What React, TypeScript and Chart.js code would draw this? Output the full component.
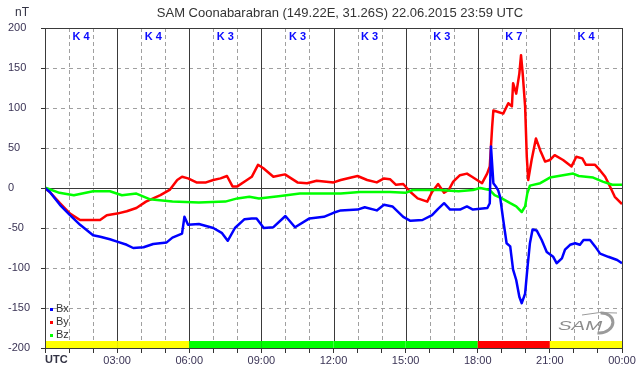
import React, { useEffect, useRef } from 'react';
import { Chart, registerables } from 'chart.js';

Chart.register(...registerables);

const TITLE = 'SAM Coonabarabran (149.22E, 31.26S) 22.06.2015 23:59 UTC';
const UNIT = 'nT';

const bxHours = [0, 0.2, 0.62, 1.04, 1.46, 2.0, 2.3, 2.7, 3.0, 3.4, 3.67, 4.1, 4.5, 5.06, 5.3, 5.7, 5.8, 5.95, 6.4, 7.0, 7.35, 7.6, 7.9, 8.3, 8.6, 8.8, 9.1, 9.5, 10.0, 10.4, 11.0, 11.6, 12.0, 12.3, 13.0, 13.3, 13.8, 14.1, 14.45, 14.9, 15.2, 15.7, 16.1, 16.35, 16.6, 16.85, 17.26, 17.55, 17.8, 18.4, 18.5, 18.55, 18.65, 18.75, 18.85, 18.93, 19.06, 19.2, 19.35, 19.47, 19.6, 19.73, 19.83, 19.97, 20.06, 20.17, 20.28, 20.45, 20.66, 20.87, 21.14, 21.28, 21.5, 21.63, 21.84, 22.05, 22.25, 22.4, 22.67, 22.88, 23.09, 23.43, 23.8, 24];
const bxValues = [0, -5, -21, -34, -46, -59, -61, -64, -67, -71, -75, -74, -70, -68, -62, -57, -36, -46, -45, -50, -56, -66, -50, -39, -38, -38, -50, -49, -35, -49, -38, -36, -31, -28, -27, -24, -28, -21, -23, -36, -41, -40, -34, -26, -19, -27, -27, -23, -27, -25, -19, 52, 6, 2, -3, -11, -40, -69, -73, -102, -115, -136, -144, -132, -102, -69, -52, -53, -65, -80, -86, -94, -88, -77, -71, -69, -71, -65, -65, -73, -82, -86, -90, -94];

const byHours = [0, 0.2, 0.62, 1.04, 1.46, 2.29, 2.57, 3.0, 3.4, 3.8, 4.2, 4.8, 5.2, 5.5, 5.7, 5.95, 6.3, 6.7, 7.0, 7.3, 7.57, 7.8, 8.0, 8.4, 8.6, 8.86, 9.07, 9.5, 9.98, 10.5, 10.9, 11.3, 12.0, 12.3, 13.0, 13.4, 13.8, 14.1, 14.35, 14.6, 14.9, 15.2, 15.5, 15.9, 16.1, 16.35, 16.6, 16.8, 16.98, 17.26, 17.55, 17.76, 17.97, 18.18, 18.39, 18.5, 18.6, 18.65, 18.85, 19.06, 19.27, 19.42, 19.47, 19.6, 19.73, 19.8, 19.87, 19.97, 20.04, 20.1, 20.24, 20.42, 20.6, 20.8, 21.0, 21.2, 21.55, 21.9, 22.1, 22.35, 22.5, 22.88, 23.09, 23.3, 23.5, 23.7, 24];
const byValues = [0, -5, -19, -32, -40, -40, -34, -32, -29, -25, -17, -9, -2, 10, 14, 12, 7, 7, 10, 12, 15, 2, 2, 10, 14, 29, 25, 14, 17, 7, 6, 9, 7, 10, 15, 10, 7, 12, 11, 4, 5, -5, -13, -17, -5, 5, -6, -2, 8, 16, 18, 14, 10, 6, 18, 27, 77, 97, 95, 93, 106, 102, 131, 118, 143, 166, 143, 102, 39, 10, 35, 62, 47, 33, 35, 41, 35, 27, 39, 37, 29, 29, 22, 14, 2, -11, -20];

const bzHours = [0, 0.05, 0.6, 1.2, 2.0, 2.7, 3.2, 3.8, 4.35, 5.3, 6.4, 7.5, 8.0, 8.5, 8.9, 9.8, 10.6, 12.3, 13.1, 14.35, 15.0, 15.3, 16.4, 17.2, 17.8, 18.1, 18.5, 18.7, 19.0, 19.35, 19.6, 19.83, 19.97, 20.06, 20.17, 20.6, 21.0, 21.97, 22.2, 22.8, 23.2, 23.6, 24];
const bzValues = [0, 0, -6, -9, -4, -4, -9, -7, -14, -17, -18, -17, -13, -11, -13, -10, -7, -7, -5, -5, -6, -2.5, -2.5, -4, -2.5, 0, -2.5, -9, -13, -19, -23, -30, -23, -7, 3, 6, 13, 18, 15, 13, 8, 4, 4];

const kStartHours = [0, 3, 6, 9, 12, 15, 18, 21];
const kValues = [4, 4, 3, 3, 3, 3, 7, 4];

const xTickHours = [0, 3, 6, 9, 12, 15, 18, 21, 24];
const xTickLabels = ['UTC', '03:00', '06:00', '09:00', '12:00', '15:00', '18:00', '21:00', '00:00'];

const seriesNames = ['Bx', 'By', 'Bz'];
const seriesColors = ['#0000ff', '#ff0000', '#00ff00'];

const FONT = "Arial, 'Liberation Sans', sans-serif";

function kColor(k: number) {
  if (k >= 5) return '#ff0000';
  if (k === 4) return '#ffff00';
  return '#00ff00';
}

const decor = {
  id: 'decor',
  beforeDatasetsDraw(chart: any) {
    const { ctx, chartArea } = chart;
    const xs = chart.scales.x;
    const ys = chart.scales.y;
    const { left, right, top, bottom } = chartArea;
    ctx.save();
    // horizontal dashed grid
    ctx.lineWidth = 1;
    ctx.strokeStyle = '#a0a0a0';
    ctx.setLineDash([4, 4]);
    for (let v = -150; v <= 150; v += 50) {
      if (v === 0) continue;
      const y = Math.round(ys.getPixelForValue(v)) + 0.5;
      ctx.beginPath();
      ctx.moveTo(left, y);
      ctx.lineTo(right, y);
      ctx.stroke();
    }
    // vertical hourly dashed
    ctx.setLineDash([4, 3]);
    for (let h = 1; h < 24; h++) {
      if (h % 3 === 0) continue;
      const x = Math.round(xs.getPixelForValue(h)) + 0.5;
      ctx.beginPath();
      ctx.moveTo(x, top);
      ctx.lineTo(x, bottom);
      ctx.stroke();
    }
    // solid lines
    ctx.setLineDash([]);
    ctx.strokeStyle = '#3a3a3a';
    for (let h = 3; h < 24; h += 3) {
      const x = Math.round(xs.getPixelForValue(h)) + 0.5;
      ctx.beginPath();
      ctx.moveTo(x, top);
      ctx.lineTo(x, bottom);
      ctx.stroke();
    }
    const y0 = Math.round(ys.getPixelForValue(0)) + 0.5;
    ctx.beginPath();
    ctx.moveTo(left, y0);
    ctx.lineTo(right, y0);
    ctx.stroke();
    // K index bar
    for (let i = 0; i < kStartHours.length; i++) {
      const x1 = xs.getPixelForValue(kStartHours[i]);
      const x2 = xs.getPixelForValue(kStartHours[i] + 3);
      ctx.fillStyle = kColor(kValues[i]);
      ctx.fillRect(x1, bottom - 7, x2 - x1, 7);
    }
    // K labels
    ctx.fillStyle = '#0a0aff';
    ctx.font = `bold 11px ${FONT}`;
    ctx.textAlign = 'center';
    ctx.textBaseline = 'middle';
    for (let i = 0; i < kStartHours.length; i++) {
      const xm = xs.getPixelForValue(kStartHours[i] + 1.5);
      ctx.fillText('K ' + kValues[i], xm, top + 9);
    }
    ctx.restore();
  },
  afterDatasetsDraw(chart: any) {
    const { ctx, chartArea } = chart;
    const { left, right, top, bottom } = chartArea;
    ctx.save();
    // frame
    ctx.strokeStyle = '#3a3a3a';
    ctx.lineWidth = 1;
    ctx.setLineDash([]);
    ctx.strokeRect(Math.round(left) + 0.5, Math.round(top) + 0.5, Math.round(right - left), Math.round(bottom - top));
    // title
    ctx.fillStyle = '#333333';
    ctx.font = `13px ${FONT}`;
    ctx.textAlign = 'center';
    ctx.textBaseline = 'middle';
    ctx.fillText(TITLE, 340, 13);
    ctx.font = `12px ${FONT}`;
    ctx.fillStyle = '#333344';
    ctx.textAlign = 'left';
    ctx.fillText(UNIT, 15, 13);
    // UTC label
    ctx.font = `bold 11px ${FONT}`;
    ctx.textBaseline = 'top';
    ctx.fillStyle = '#333344';
    ctx.fillText(xTickLabels[0], left, bottom + 6);
    // legend
    ctx.font = `11px ${FONT}`;
    ctx.textBaseline = 'middle';
    for (let i = 0; i < seriesNames.length; i++) {
      const y = bottom - 39 + i * 13;
      ctx.fillStyle = seriesColors[i];
      ctx.fillRect(left + 5, y - 1, 3, 3);
      ctx.fillStyle = '#333333';
      ctx.fillText(seriesNames[i], left + 11, y);
    }
    // logo
    ctx.save();
    ctx.fillStyle = '#8c8c8c';
    ctx.font = `italic 12px ${FONT}`;
    ctx.textBaseline = 'alphabetic';
    ctx.translate(558, 330);
    ctx.scale(1.7, 1);
    ctx.fillText('SAM', 0, 0);
    ctx.restore();
    ctx.strokeStyle = '#9a9a9a';
    ctx.lineWidth = 3;
    ctx.beginPath();
    ctx.ellipse(600, 323, 13, 10, -0.15, -Math.PI * 0.45, Math.PI * 0.6);
    ctx.stroke();
    ctx.lineWidth = 1;
    ctx.beginPath();
    ctx.moveTo(582, 315);
    ctx.quadraticCurveTo(600, 311, 617, 313);
    ctx.stroke();
    ctx.restore();
  },
};

function toPoints(hours: number[], values: number[]) {
  return hours.map((h, i) => ({ x: h, y: values[i] }));
}

export default function App() {
  const ref = useRef<HTMLCanvasElement | null>(null);
  useEffect(() => {
    if (!ref.current) return;
    const datasets = [
      { label: seriesNames[0], data: toPoints(bxHours, bxValues), borderColor: seriesColors[0] },
      { label: seriesNames[2], data: toPoints(bzHours, bzValues), borderColor: seriesColors[2] },
      { label: seriesNames[1], data: toPoints(byHours, byValues), borderColor: seriesColors[1] },
    ].map((d) => ({
      ...d,
      borderWidth: 2.5,
      pointRadius: 0,
      tension: 0,
      fill: false,
      borderJoinStyle: 'round' as const,
    }));
    const chart = new Chart(ref.current, {
      type: 'line',
      data: { datasets },
      options: {
        animation: false,
        responsive: false,
        layout: { padding: { left: 8, right: 20, top: 28, bottom: 0 } },
        plugins: { legend: { display: false }, tooltip: { enabled: false }, title: { display: false } },
        scales: {
          x: {
            type: 'linear',
            min: 0,
            max: 24,
            afterFit: (s: any) => { s.height = 28; },
            afterBuildTicks: (s: any) => {
              const t = [];
              for (let h = 0; h <= 24; h++) t.push({ value: h });
              s.ticks = t;
            },
            ticks: {
              autoSkip: false,
              maxRotation: 0,
              padding: 1,
              color: '#3a3355',
              font: { family: FONT, size: 11 },
              callback: (v: any) => {
                const idx = xTickHours.indexOf(Number(v));
                return idx > 0 ? xTickLabels[idx] : '';
              },
            },
            grid: { drawOnChartArea: false, drawTicks: true, tickLength: 5, color: '#333' },
            border: { display: false },
          },
          y: {
            type: 'linear',
            min: -200,
            max: 200,
            afterFit: (s: any) => { s.width = 37; },
            ticks: {
              stepSize: 50,
              crossAlign: 'far',
              color: '#3a3355',
              font: { family: FONT, size: 11 },
            },
            grid: { drawOnChartArea: false, drawTicks: true, tickLength: 4, color: '#333' },
            border: { display: false },
          },
        },
      },
      plugins: [decor],
    });
    return () => chart.destroy();
  }, []);
  return (
    <div style={{ position: 'absolute', left: 0, top: 0, width: 642, height: 376, background: '#fff' }}>
      <canvas ref={ref} width={642} height={376} style={{ display: 'block' }} />
    </div>
  );
}
